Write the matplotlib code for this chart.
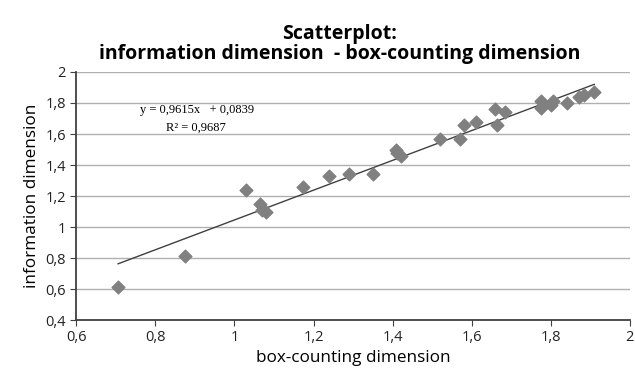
import numpy as np
import matplotlib.pyplot as plt

# ----------------------------
# Data
# ----------------------------

box_dim = [0.706, 0.875, 1.03, 1.065, 1.07, 1.08, 1.173, 1.24, 1.29, 1.35,
           1.408, 1.41, 1.42, 1.52, 1.57, 1.58, 1.61, 1.66, 1.665, 1.685,
           1.775, 1.775, 1.80, 1.805, 1.84, 1.87, 1.885, 1.91]
info_dim = [0.613, 0.81, 1.24, 1.15, 1.11, 1.10, 1.26, 1.33, 1.34, 1.34,
            1.50, 1.48, 1.46, 1.57, 1.57, 1.66, 1.68, 1.76, 1.66, 1.74,
            1.81, 1.77, 1.79, 1.81, 1.80, 1.84, 1.85, 1.87]

slope = 0.9615
intercept = 0.0839
r2 = 0.9687

x_ticks = [0.6, 0.8, 1.0, 1.2, 1.4, 1.6, 1.8, 2.0]
x_labels = ["0,6", "0,8", "1", "1,2", "1,4", "1,6", "1,8", "2"]
y_ticks = [0.4, 0.6, 0.8, 1.0, 1.2, 1.4, 1.6, 1.8, 2.0]
y_labels = ["0,4", "0,6", "0,8", "1", "1,2", "1,4", "1,6", "1,8", "2"]

# ----------------------------
# Plot
# ----------------------------

plt.rcParams['font.family'] = ['Open Sans', 'DejaVu Sans']

fig = plt.figure(figsize=(6.35, 3.73), dpi=100)
ax = fig.add_axes([0.12, 0.142, 0.872, 0.665])

ax.scatter(box_dim, info_dim, marker="D", s=42, color="#808080", zorder=3)

xs = np.array([min(box_dim), max(box_dim)])
ax.plot(xs, slope * xs + intercept, color="#404040", lw=1.0, zorder=2)

ax.set_xlim(0.6, 2.0)
ax.set_ylim(0.4, 2.0)
ax.set_xticks(x_ticks)
ax.set_xticklabels(x_labels)
ax.set_yticks(y_ticks)
ax.set_yticklabels(y_labels)
ax.tick_params(labelsize=10.5, length=4, color="#404040", labelcolor="#222222")

ax.grid(axis="y", color="#b0b0b0", lw=1.0)
ax.set_axisbelow(True)
for s in ["top", "right"]:
    ax.spines[s].set_visible(False)
for s in ["left", "bottom"]:
    ax.spines[s].set_color("#404040")
    ax.spines[s].set_linewidth(1.3)

ax.set_xlabel("box-counting dimension", fontsize=12.3, labelpad=3)
ax.set_ylabel("information dimension", fontsize=12.3, labelpad=4)

fig.text(0.535, 0.91, "Scatterplot:", ha="center", va="center",
         fontsize=14, fontweight="bold")
fig.text(0.535, 0.855, "information dimension  - box-counting dimension",
         ha="center", va="center", fontsize=14, fontweight="bold")

ax.text(0.762, 1.755, f"y = {slope:.4f}x   + {intercept:.4f}".replace(".", ","),
        family="Liberation Serif", fontsize=9, ha="left", va="center")
ax.text(0.826, 1.64, f"R² = {r2:.4f}".replace(".", ","),
        family="Liberation Serif", fontsize=9, ha="left", va="center")

plt.savefig("out.png", dpi=100)
